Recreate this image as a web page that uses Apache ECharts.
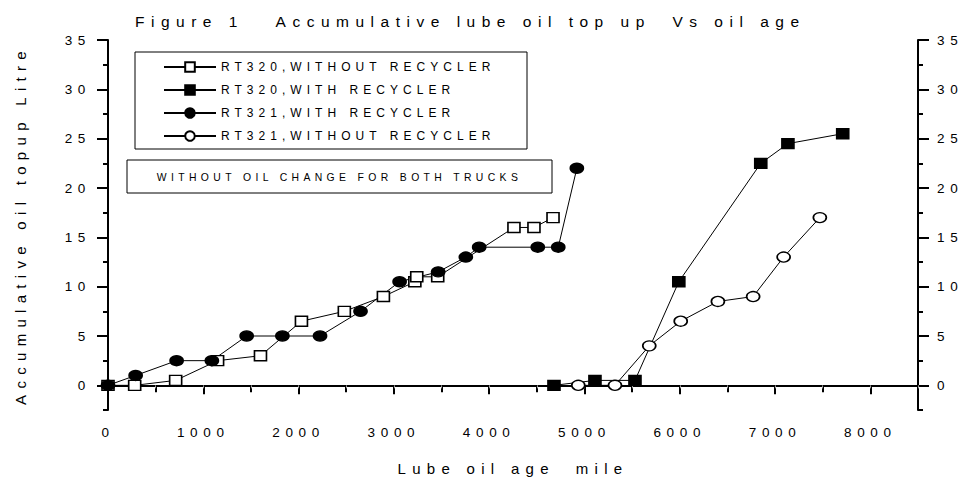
<!DOCTYPE html>
<html>
<head>
<meta charset="utf-8">
<script src="https://cdn.jsdelivr.net/npm/echarts@6/dist/echarts.min.js"></script>
<style>
  html, body { margin: 0; padding: 0; background: #fff; }
  #main { width: 966px; height: 481px; }
  #main svg text { letter-spacing: 0.42em; }
</style>
</head>
<body>
<div id="main"></div>
<script>
// ---- Data (x = lube oil age in miles, y = accumulative top up in litres) ----
var seriesNames = [
  'RT320,WITHOUT RECYCLER',
  'RT320,WITH RECYCLER',
  'RT321,WITH RECYCLER',
  'RT321,WITHOUT RECYCLER'
];
var rt320Without = [[0,0],[280,0],[710,0.5],[1150,2.5],[1600,3],[2030,6.5],[2480,7.5],[2890,9],[3220,10.5],[3240,11],[3460,11],[4260,16],[4470,16],[4670,17]];
var rt320With = [[4680,0],[5110,0.5],[5530,0.5],[5990,10.5],[6850,22.5],[7135,24.5],[7710,25.5]];
var rt321With = [[0,0],[290,1],[720,2.5],[1090,2.5],[1455,5],[1830,5],[2225,5],[2650,7.5],[3060,10.5],[3465,11.5],[3755,13],[3895,14],[4510,14],[4725,14],[4920,22]];
var rt321Without = [[4935,0],[5320,0],[5680,4],[6010,6.5],[6400,8.5],[6770,9],[7090,13],[7470,17]];
var yMajorTicks = [0,5,10,15,20,25,30,35];
var yMinorTicks = [-2.5,2.5,7.5,12.5,17.5,22.5,27.5,32.5];
var titleText = 'Figure 1   Accumulative lube oil top up  Vs oil age';
var xName = 'Lube oil age  mile';
var yName = 'Accumulative oil topup Litre';
var noteText = 'WITHOUT OIL CHANGE FOR BOTH TRUCKS';

var FONT = '"Liberation Sans", Arial, Helvetica, sans-serif';
var chart = echarts.init(document.getElementById('main'), null, {renderer: 'svg'});

function plain(v) { return String(v); }

function yAxisDef(pos, main) {
  return {
    type: 'value', position: pos, min: -2.5, max: 35, interval: 2.5,
    axisLine: {show: main, lineStyle: {color: '#000', width: 2}},
    axisTick: main ? {show: true, length: 11, inside: false, customValues: yMajorTicks, lineStyle: {color: '#000', width: 2}}
                   : {show: true, length: 5, inside: false, customValues: yMinorTicks, lineStyle: {color: '#000', width: 2}},
    axisLabel: main ? {show: true, customValues: yMajorTicks, margin: pos === 'left' ? 17 : 19, formatter: plain,
                       color: '#000', fontFamily: FONT, fontSize: 13.5} : {show: false},
    splitLine: {show: false},
    name: (main && pos === 'left') ? yName : '',
    nameLocation: 'middle', nameRotate: 90, nameGap: 80,
    nameTextStyle: {color: '#000', fontFamily: FONT, fontSize: 15}
  };
}

function mkSeries(name, data, symbol, filled, size) {
  return {
    name: name, type: 'line', data: data, xAxisIndex: 0, yAxisIndex: 0,
    symbol: symbol, symbolSize: size, showSymbol: true,
    lineStyle: {color: '#000', width: 1},
    itemStyle: {color: filled ? '#000' : '#fff', borderColor: '#000', borderWidth: 1.5},
    emphasis: {disabled: true},
    animation: false, z: 3
  };
}

var option = {
  animation: false,
  backgroundColor: '#fff',
  textStyle: {fontFamily: FONT},
  title: {
    text: titleText, left: 130, top: 8,
    textStyle: {color: '#000', fontFamily: FONT, fontSize: 15.5, fontWeight: 'normal'}
  },
  grid: {left: 108, right: 48, top: 40, bottom: 67},
  legend: {
    orient: 'vertical', left: 158, top: 56,
    itemWidth: 52, itemHeight: 12, itemGap: 11,
    data: seriesNames,
    textStyle: {color: '#000', fontFamily: FONT, fontSize: 12},
    selectedMode: false
  },
  xAxis: [{
    type: 'value', position: 'bottom', min: 0, max: 8500, interval: 1000,
    axisLine: {lineStyle: {color: '#000', width: 2}},
    axisTick: {length: 9, lineStyle: {color: '#000', width: 2}},
    minorTick: {show: true, splitNumber: 2, length: 7, lineStyle: {color: '#000', width: 2}},
    axisLabel: {color: '#000', fontFamily: FONT, fontSize: 13.5, margin: 15, showMaxLabel: false, formatter: plain},
    splitLine: {show: false},
    name: xName, nameLocation: 'middle', nameGap: 51,
    nameTextStyle: {color: '#000', fontFamily: FONT, fontSize: 15}
  }, {
    type: 'value', position: 'top', min: 0, max: 8500, interval: 500,
    axisLine: {lineStyle: {color: '#000', width: 2}},
    axisTick: {inside: true, length: 3, lineStyle: {color: '#999', width: 1}},
    axisLabel: {show: false},
    splitLine: {show: false}
  }],
  yAxis: [yAxisDef('left', true), yAxisDef('left', false), yAxisDef('right', true), yAxisDef('right', false)],
  graphic: [
    {type: 'rect', shape: {x: 135, y: 52, width: 392, height: 97},
     style: {fill: 'none', stroke: '#000', lineWidth: 1}, z: 1},
    {type: 'rect', shape: {x: 127, y: 160, width: 425, height: 33},
     style: {fill: 'none', stroke: '#000', lineWidth: 1}, z: 1},
    {type: 'text', x: 339.5, y: 177,
     style: {text: noteText, fill: '#000', font: '10.4px ' + FONT, textAlign: 'center', textVerticalAlign: 'middle'}, z: 2}
  ],
  series: [
    mkSeries(seriesNames[0], rt320Without, 'rect', false, [12, 10]),
    mkSeries(seriesNames[1], rt320With, 'rect', true, [12, 10]),
    mkSeries(seriesNames[2], rt321With, 'circle', true, [13, 10]),
    mkSeries(seriesNames[3], rt321Without, 'circle', false, [13, 10])
  ]
};
chart.setOption(option);
</script>
</body>
</html>
